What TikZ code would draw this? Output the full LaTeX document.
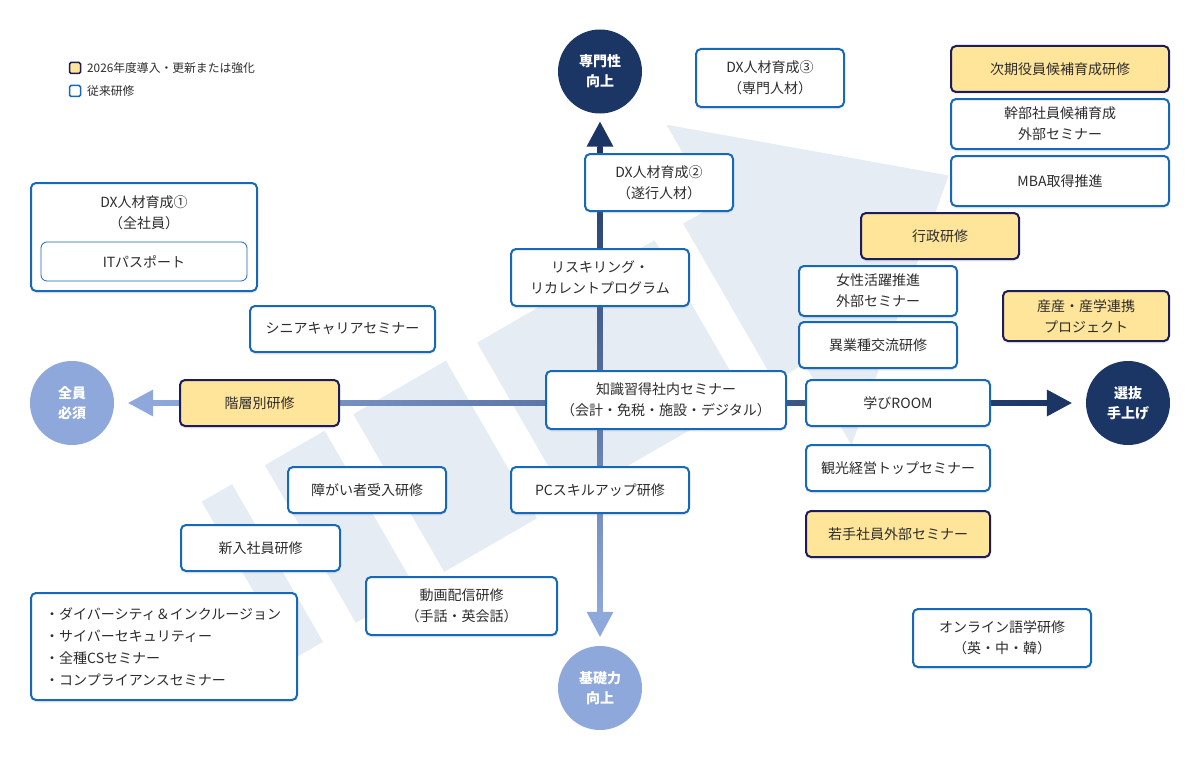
\documentclass[tikz,border=0pt]{standalone}
\usepackage{fontspec}
\setmainfont{Noto Sans CJK JP}
\usetikzlibrary{shadows,calc}
\definecolor{navy}{RGB}{27,54,101}
\definecolor{lblue}{RGB}{143,168,219}
\definecolor{bblue}{RGB}{22,104,186}
\definecolor{yfill}{RGB}{255,229,153}
\definecolor{yborder}{RGB}{28,28,90}
\definecolor{bgshape}{RGB}{230,236,244}
\definecolor{txt}{RGB}{45,45,45}
\begin{document}
\begin{tikzpicture}[x=1pt,y=-1pt,
  box/.style={draw=bblue, line width=2pt, fill=white, rounded corners=5pt, align=center,
    text=txt, font=\fontsize{14}{21}\selectfont, inner sep=0pt,
    drop shadow={opacity=0.12, shadow xshift=0pt, shadow yshift=-2.5pt}},
  ybox/.style={box, draw=yborder, fill=yfill},
  ibox/.style={draw=bblue, line width=0.8pt, fill=white, rounded corners=6pt, align=center,
    text=txt, font=\fontsize{14}{21}\selectfont, inner sep=0pt},
  plain/.style={align=center, text=txt, font=\fontsize{14}{21}\selectfont, inner sep=0pt},
  circ/.style={circle, minimum size=84pt, inner sep=0pt, align=center, text=white,
    font=\bfseries\fontsize{14}{20}\selectfont},
  legtxt/.style={anchor=west, text=txt, font=\fontsize{11.8}{13}\selectfont, inner sep=0pt},
]
\useasboundingbox (0,0) rectangle (1200,760);
\fill[white] (0,0) rectangle (1200,760);

% background striped arrow (s along arrow, v across)
\begin{scope}[shift={(759,285)}, x={(0.866pt,0.5pt)}, y={(0.5pt,-0.866pt)}]
  \fill[bgshape] (-591,-91) -- (-556,-91) -- (-556,91) -- (-591,91) -- cycle;
  \fill[bgshape] (-518,-91) -- (-449,-91) -- (-449,91) -- (-518,91) -- cycle;
  \fill[bgshape] (-416,-91) -- (-309,-91) -- (-309,91) -- (-416,91) -- cycle;
  \fill[bgshape] (-273,-91) -- (-68,-91) -- (-68,91) -- (-273,91) -- cycle;
  \fill[bgshape] (0,-185) -- (219,0) -- (0,185) -- (0,91) -- (-35,91) -- (-35,-91) -- (0,-91) -- cycle;
\end{scope}

% circles
\node[circ, fill=navy] (ctop) at (600,71.5) {専門性\\向上};
\node[circ, fill=lblue] (cbot) at (600,688) {基礎力\\向上};
\node[circ, fill=lblue] (cL) at (72,403) {全員\\必須};
\node[circ, fill=navy] (cR) at (1128,403) {選抜\\手上げ};

% axes
\shade[top color=navy, bottom color=lblue] ($(ctop.south)+(-2.5,33)$) rectangle ($(cbot.north)+(2.5,-33)$);
\shade[left color=lblue, right color=navy] ($(cL.east)+(39,-2.5)$) rectangle ($(cR.west)+(-39,2.5)$);
\fill[navy] ($(ctop.south)+(0,8)$) -- ++(-13.5,25) -- ++(27,0) -- cycle;
\fill[lblue] ($(cbot.north)+(0,-9)$) -- ++(-13.5,-25) -- ++(27,0) -- cycle;
\fill[lblue] ($(cL.east)+(14,0)$) -- ++(25,-13.5) -- ++(0,27) -- cycle;
\fill[navy] ($(cR.west)+(-14,0)$) -- ++(-25,-13.5) -- ++(0,27) -- cycle;

% legend
\node[draw=yborder, fill=yfill, line width=1.5pt, rounded corners=1.5pt, minimum size=11pt, inner sep=0pt] (lg1) at (75,68) {};
\node[legtxt] (lg1t) at (87,68) {2026年度導入・更新または強化};
\node[draw=bblue, fill=white, line width=1.5pt, rounded corners=1.5pt, minimum size=11pt, inner sep=0pt] (lg2) at (75,91) {};
\node[legtxt] (lg2t) at (87,91) {従来研修};

% boxes
\node[box, minimum width=148pt, minimum height=58pt] (dx3) at (770,78) {DX人材育成③\\（専門人材）};
\node[box, minimum width=148pt, minimum height=57pt] (dx2) at (659,182.5) {DX人材育成②\\（遂行人材）};
\node[box, minimum width=178pt, minimum height=57pt] (reskill) at (600,277.5) {リスキリング・\\リカレントプログラム};
\node[box, minimum width=240pt, minimum height=58pt] (chishiki) at (666,400) {知識習得社内セミナー\\（会計・免税・施設・デジタル）};
\node[box, minimum width=178pt, minimum height=46pt] (pc) at (600,490) {PCスキルアップ研修};
\node[box, minimum width=191pt, minimum height=58pt] (douga) at (461.5,606) {動画配信研修\\（手話・英会話）};
\node[box, minimum width=158pt, minimum height=46pt] (shougai) at (367,490) {障がい者受入研修};
\node[box, minimum width=159pt, minimum height=46pt] (shinnyu) at (260.5,548) {新入社員研修};
\node[box, minimum width=266pt, minimum height=107pt] (bul) at (164,646.5) {};
\node[plain, align=left, anchor=west, font=\fontsize{14}{22}\selectfont] (bult) at (45,647) {・ダイバーシティ＆インクルージョン\\・サイバーセキュリティー\\・全種CSセミナー\\・コンプライアンスセミナー};
\node[ybox, minimum width=159pt, minimum height=46pt] (kaisou) at (259.5,403) {階層別研修};
\node[box, minimum width=185pt, minimum height=46pt] (senior) at (342.5,329) {シニアキャリアセミナー};
\node[box, minimum width=226pt, minimum height=108pt] (dx1) at (144,237) {};
\node[plain] (dx1t) at (144,213) {DX人材育成①\\（全社員）};
\node[ibox, minimum width=206pt, minimum height=39pt] (it) at (144,261.5) {ITパスポート};

\node[ybox, minimum width=218pt, minimum height=46pt] (jiki) at (1060,69) {次期役員候補育成研修};
\node[box, minimum width=218pt, minimum height=50pt] (kanbu) at (1060,124) {幹部社員候補育成\\外部セミナー};
\node[box, minimum width=218pt, minimum height=50pt] (mba) at (1060,181) {MBA取得推進};
\node[ybox, minimum width=158pt, minimum height=46pt] (gyousei) at (940,236) {行政研修};
\node[box, minimum width=158pt, minimum height=50pt] (josei) at (878,291) {女性活躍推進\\外部セミナー};
\node[box, minimum width=158pt, minimum height=46pt] (igyou) at (878,345) {異業種交流研修};
\node[ybox, minimum width=166pt, minimum height=50pt] (sansan) at (1086,316) {産産・産学連携\\プロジェクト};
\node[box, minimum width=184pt, minimum height=46pt] (manabi) at (898,403) {学びROOM};
\node[box, minimum width=184pt, minimum height=46pt] (kankou) at (898,468) {観光経営トップセミナー};
\node[ybox, minimum width=184pt, minimum height=46pt] (wakate) at (898,534) {若手社員外部セミナー};
\node[box, minimum width=178pt, minimum height=58pt] (online) at (1002,638) {オンライン語学研修\\（英・中・韓）};
\end{tikzpicture}
\end{document}
